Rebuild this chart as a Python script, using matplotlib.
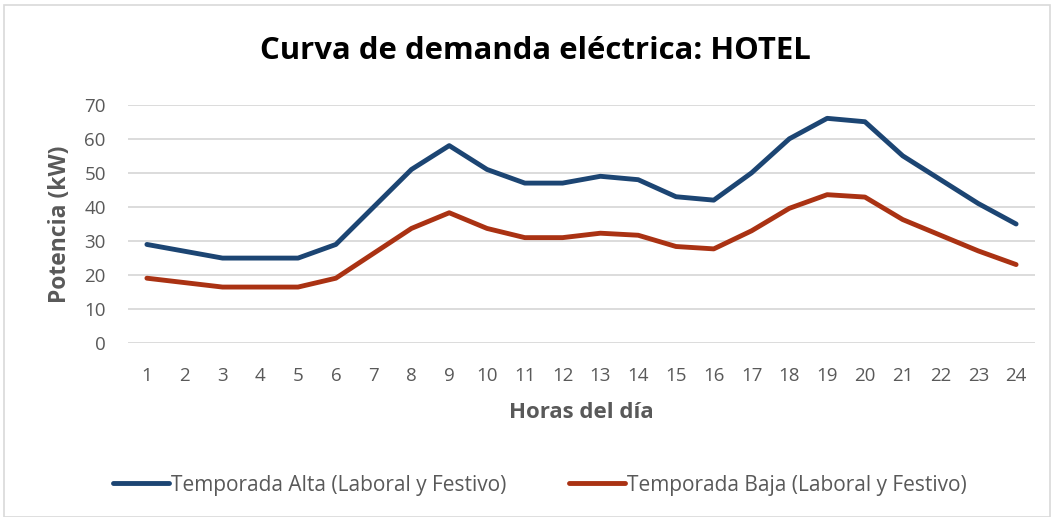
import matplotlib
matplotlib.use("Agg")
import matplotlib.pyplot as plt
from matplotlib.patches import Rectangle

hours = list(range(1, 25))
alta = [29, 27, 25, 25, 25, 29, 40, 51, 58, 51, 47, 47, 49, 48, 43, 42, 50, 60, 66, 65, 55, 48, 41, 35]
baja = [19.1, 17.8, 16.5, 16.5, 16.5, 19.1, 26.4, 33.7, 38.3, 33.7, 31.0, 31.0, 32.3, 31.7, 28.4, 27.7, 33.0, 39.6, 43.6, 42.9, 36.3, 31.7, 27.1, 23.1]
labels = ["Temporada Alta (Laboral y Festivo)", "Temporada Baja (Laboral y Festivo)"]
title = "Curva de demanda eléctrica: HOTEL"
ylabel = "Potencia (kW)"
xlabel = "Horas del día"

plt.rcParams['font.family'] = ['Open Sans', 'DejaVu Sans']
gray = "#595959"

fig = plt.figure(figsize=(10.54, 5.17), dpi=100)
fig.patches.append(Rectangle((4/1054, 0), 1 - 8/1054, 1 - 5/517, transform=fig.transFigure,
                             fill=False, edgecolor="#d9d9d9", linewidth=1.2))
ax = fig.add_axes([128/1054, 1 - 343.3/517, (1035 - 128)/1054, (343.3 - 104.7)/517])

l1, = ax.plot(hours, alta, color="#1c4573", linewidth=3.5, solid_capstyle="round", solid_joinstyle="round", label=labels[0])
l2, = ax.plot(hours, baja, color="#aa3213", linewidth=3.5, solid_capstyle="round", solid_joinstyle="round", label=labels[1])

ax.set_xlim(0.5, 24.5)
ax.set_ylim(0, 70)
ax.set_yticks(range(0, 71, 10))
ax.set_xticks(hours)
ax.grid(axis="y", color="#d9d9d9", linewidth=1.3)
ax.set_axisbelow(True)
for s in ax.spines.values():
    s.set_visible(False)
ax.tick_params(axis="both", length=0, labelsize=13.5, labelcolor=gray)
ax.tick_params(axis="y", pad=16)
ax.tick_params(axis="x", pad=17)

ax.set_ylabel(ylabel, fontsize=16.5, fontweight="bold", color=gray, labelpad=9)
ax.set_xlabel(xlabel, fontsize=16, fontweight="bold", color=gray, labelpad=12)
fig.text(535/1054, 1 - 51/517, title, fontsize=22.4, fontweight="bold", color="black", ha="center", va="center")

fig.legend(handles=[l1, l2], loc="center", bbox_to_anchor=(540/1054, 1 - 485/517), ncol=2,
           frameon=False, fontsize=15, labelcolor=gray, handlelength=2.7, handletextpad=0.1,
           columnspacing=3.0)

fig.savefig("out.png", dpi=100)
